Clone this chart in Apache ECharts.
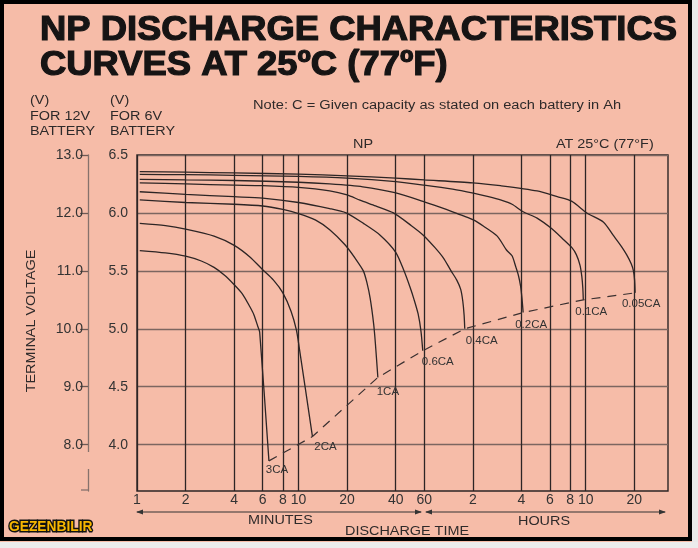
<!DOCTYPE html>
<html><head><meta charset="utf-8">
<script src="https://cdn.jsdelivr.net/npm/echarts@6/dist/echarts.min.js"></script>
<style>html,body{margin:0;padding:0;background:#fff}#c{width:698px;height:548px}</style>
</head><body><div id="c"></div>
<script>
// ---------- data ----------
const xTickMinutes = [1,2,4,6,8,10,20,40,60,120,240,360,480,600,1200];
const xTickLabels  = ['1','2','4','6','8','10','20','40','60','2','4','6','8','10','20'];
const y6Ticks  = [4.0,4.5,5.0,5.5,6.0,6.5];
const y12Ticks = [8,9,10,11,12,13];
const seriesNames = ['3CA','2CA','1CA','0.6CA','0.4CA','0.2CA','0.1CA','0.05CA'];

// [discharge time in minutes, terminal voltage for 6V battery]
const curve3CA = [[1.04,5.675],[1.5,5.655],[2,5.627],[2.5,5.585],[3,5.53],[3.5,5.46],[4,5.38],[4.5,5.30],[5,5.19],[5.3,5.12],[5.6,5.02],[5.75,4.97],[6.56,3.86]];
const curve2CA = [[1.04,5.91],[1.5,5.89],[2,5.86],[3,5.80],[4,5.72],[5,5.62],[6,5.51],[7,5.42],[8,5.31],[9,5.15],[9.7,4.99],[10.1,4.84],[12.2,4.07]];
const curve1CA = [[1.04,6.113],[2,6.09],[4,6.075],[6,6.06],[8,6.03],[10,5.995],[12.7,5.94],[15.6,5.855],[19.4,5.725],[22.4,5.61],[25.2,5.50],[26.5,5.40],[27.8,5.26],[29.2,5.04],[29.9,4.88],[31,4.58]];
const curve06CA = [[1.04,6.183],[2,6.16],[4,6.14],[6,6.128],[10,6.09],[15.6,6.037],[19.7,6.0],[25.2,5.91],[31.9,5.81],[40,5.66],[45,5.50],[49,5.36],[52,5.25],[55,5.13],[57.3,4.98],[58.8,4.81]];
const curve04CA = [[1.04,6.26],[2,6.25],[4,6.24],[6,6.235],[10,6.22],[15.6,6.19],[20,6.155],[24,6.11],[30,6.06],[38.7,6.0],[50,5.89],[59,5.81],[70,5.70],[79,5.61],[88,5.50],[95.5,5.42],[101,5.34],[104,5.24],[106,5.12],[107,5.0]];
const curve02CA = [[1.04,6.29],[2,6.285],[4,6.28],[10,6.265],[15.6,6.25],[25,6.225],[39.5,6.175],[59,6.10],[75,6.05],[90,6.01],[105,5.975],[121,5.94],[140,5.885],[170,5.80],[194,5.68],[210,5.63],[222,5.53],[230,5.46],[237,5.37],[242,5.26],[246,5.14]];
const curve01CA = [[1.04,6.333],[2,6.33],[4,6.325],[10,6.315],[20,6.30],[40,6.27],[60,6.24],[90,6.205],[121,6.17],[150,6.14],[180,6.11],[210,6.075],[246,6.01],[300,5.955],[369,5.865],[430,5.78],[493,5.70],[525,5.64],[553,5.55],[568,5.45],[576,5.35],[580,5.25]];
const curve005CA = [[1.04,6.356],[2,6.352],[4,6.345],[10,6.335],[20,6.32],[40,6.30],[60,6.285],[120,6.26],[178,6.235],[300,6.19],[400,6.14],[493,6.10],[610,6.0],[774,5.92],[885,5.81],[1000,5.71],[1075,5.64],[1150,5.56],[1185,5.50],[1205,5.42],[1214,5.31]];

// ---------- styles ----------
const labelOffsets = [[8,9],[13,10],[10,14],[15,11],[17,12],[8,12],[8,12],[6,11]];
const BG = '#F6BCA8';
const INK = '#2d2525';
const FONT = 'Liberation Sans, Arial, sans-serif';

const curves = [curve3CA, curve2CA, curve1CA, curve06CA, curve04CA, curve02CA, curve01CA, curve005CA];

function nearestLabel(v){
  let bi=0, bd=1e9;
  xTickMinutes.forEach((t,i)=>{const d=Math.abs(Math.log(v)-Math.log(t)); if(d<bd){bd=d;bi=i;}});
  return xTickLabels[bi];
}

const lineSeries = curves.map((d,i)=>({
  type:'line', name: seriesNames[i], data: d, symbol:'none', showSymbol:false,
  smooth:0.25, lineStyle:{color:INK, width:1.3}, z:3, silent:true
}));
const ends = curves.map(c=>c[c.length-1]);
const dashedSeries = {
  type:'line', name:'cutoff',
  data: ends.map((p,i)=>({name: seriesNames[i], value: p, label:{offset: labelOffsets[i]}})),
  symbol:'circle', symbolSize:1, showSymbol:true, itemStyle:{color:'rgba(0,0,0,0)'},
  lineStyle:{type:[9,7], color:'#3a3030', width:1.2},
  label:{show:true, position:'inside', formatter:'{b}', color:'#333', fontSize:11.5, fontFamily:FONT},
  z:4, silent:true
};

function txt(x, y, s, o={}){
  const st = { text:s, fontFamily:FONT, fontSize:o.fs||12, fontWeight:o.fw||'normal', fill:o.fill||'#2e2a2a',
      textAlign:o.align||'left', textVerticalAlign:'middle' };
  if (o.stroke) { st.stroke = o.stroke; st.lineWidth = o.lw || 1; }
  return { type:'text', x:x, y:y, scaleX: (o.sx!==undefined?o.sx:1.2), rotation:o.rot||0, z:10, style: st };
}
function line(x1,y1,x2,y2,c,w){ return {type:'line', z:10, shape:{x1,y1,x2,y2}, style:{stroke:c||'#333', lineWidth:w||1}}; }
function tri(pts){ return {type:'polygon', z:10, shape:{points:pts}, style:{fill:'#333'}}; }

const graphics = [
  {type:'rect', z:20, shape:{x:692,y:0,width:6,height:548}, style:{fill:'#e9e9e9'}},
  {type:'rect', z:20, shape:{x:0,y:542,width:698,height:6}, style:{fill:'#ececec'}},
  {type:'rect', z:21, shape:{x:2,y:2,width:688,height:537}, style:{fill:'none', stroke:'#000', lineWidth:4}},
  txt(40, 30, 'NP DISCHARGE CHARACTERISTICS', {fs:35, fw:'bold', sx:1.04, fill:'#161414', stroke:'#161414', lw:1.2}),
  txt(40, 65, 'CURVES AT 25ºC (77ºF)', {fs:35, fw:'bold', sx:1.04, fill:'#161414', stroke:'#161414', lw:1.2}),
  txt(30, 101, '(V)'), txt(30, 117, 'FOR 12V'), txt(30, 132, 'BATTERY'),
  txt(110, 101, '(V)'), txt(110, 117, 'FOR 6V'), txt(110, 132, 'BATTERY'),
  txt(253, 106, 'Note: C = Given capacity as stated on each battery in Ah', {sx:1.22}),
  txt(353, 145, 'NP'),
  txt(556, 145, 'AT 25°C (77°F)'),
  txt(32, 321, 'TERMINAL VOLTAGE', {rot:Math.PI/2, align:'center'}),
  txt(248, 521, 'MINUTES'),
  txt(518, 522, 'HOURS'),
  txt(345, 532, 'DISCHARGE TIME'),
  line(137,512,421,512), tri([[136,512],[143,509.5],[143,514.5]]), tri([[422,512],[415,509.5],[415,514.5]]),
  line(426,512,665,512), tri([[425,512],[432,509.5],[432,514.5]]), tri([[666,512],[659,509.5],[659,514.5]]),
  {type:'rect', z:10, shape:{x:85,y:452,width:5,height:17}, style:{fill:BG}},
  line(81,490,88,490,'#86726c',1.3),
  {type:'text', x:9, y:527, z:22, scaleX:0.92, style:{text:'GEZENBILIR', fontFamily:FONT, fontSize:15, fontWeight:'bold',
    fill:'#F7B600', stroke:'#111', lineWidth:3, strokeFirst:true, textVerticalAlign:'middle'}}
];

const option = {
  animation:false,
  backgroundColor: BG,
  grid:{left:137, right:30, top:155, bottom:57, show:true, borderColor:INK, borderWidth:1.4, backgroundColor:'transparent'},
  xAxis:{type:'log', logBase:10, min:1, max:1940,
    axisLine:{show:false}, axisTick:{show:false, customValues:xTickMinutes},
    axisLabel:{customValues:xTickMinutes, formatter:nearestLabel, color:'#333', fontSize:14, margin:2, fontFamily:FONT},
    splitLine:{show:true, lineStyle:{color:INK, width:1.3}}},
  yAxis:[
    {type:'value', min:3.6, max:6.5,
      axisLine:{show:false}, axisTick:{show:false, customValues:y6Ticks},
      axisLabel:{customValues:y6Ticks, formatter:v=>v.toFixed(1), color:'#333', fontSize:14, margin:9, fontFamily:FONT},
      splitLine:{show:true, lineStyle:{color:'#7c6660', width:1.3}}},
    {type:'value', position:'left', offset:49, min:7.2, max:13,
      axisLine:{show:true, lineStyle:{color:'#86726c', width:1.3}},
      axisTick:{show:true, customValues:y12Ticks, length:8, lineStyle:{color:'#6e5a55', width:1.3}},
      axisLabel:{customValues:y12Ticks, formatter:v=>v.toFixed(1), color:'#333', fontSize:14, margin:5, fontFamily:FONT},
      splitLine:{show:false}}
  ],
  series: lineSeries.concat([dashedSeries]),
  graphic: graphics
};
const chart = echarts.init(document.getElementById('c'), null, {renderer:'canvas'});
chart.setOption(option);
</script></body></html>
